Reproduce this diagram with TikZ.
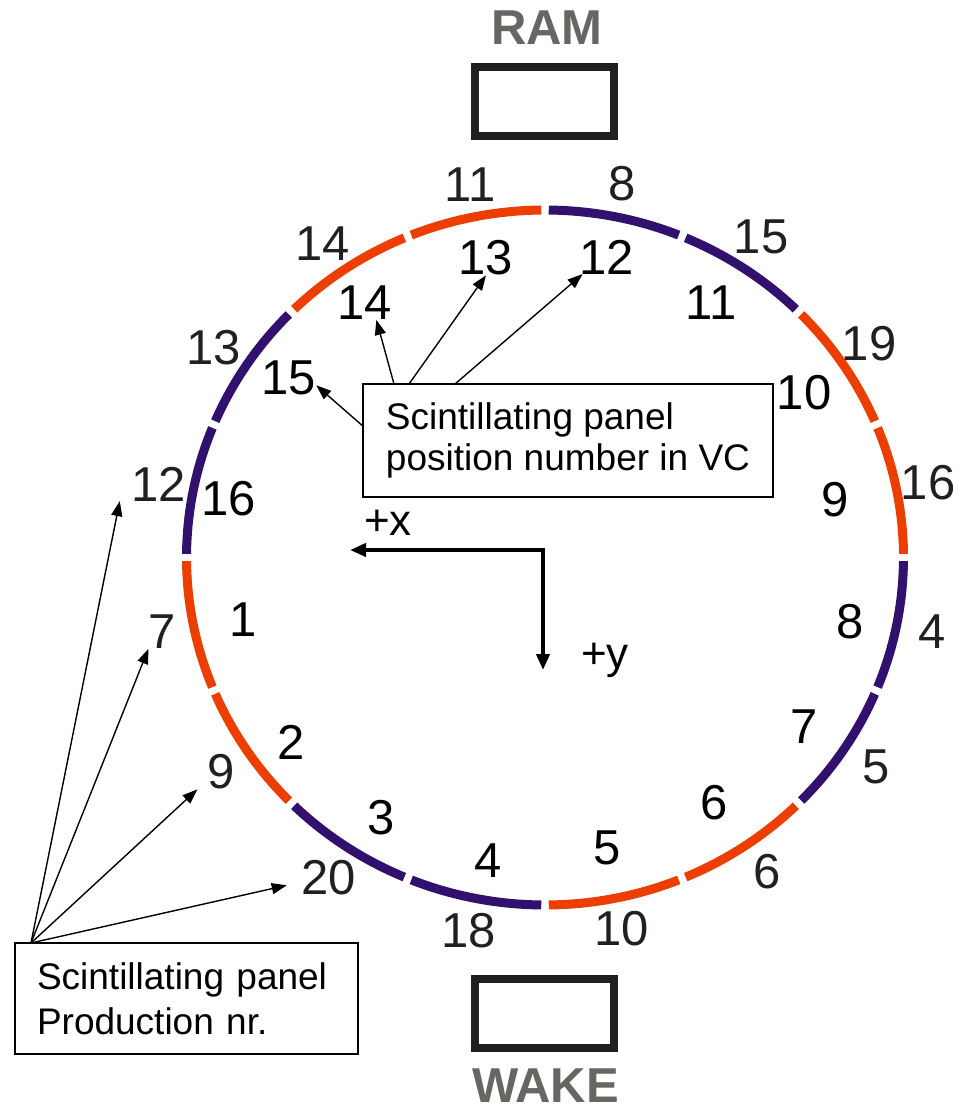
\documentclass[tikz,border=0pt]{standalone}
\usepackage{fontspec}
\setmainfont{Liberation Sans}
\usetikzlibrary{arrows.meta}
\definecolor{panelred}{RGB}{235,62,0}
\definecolor{panelblue}{RGB}{50,16,110}
\definecolor{labelgrey}{RGB}{102,102,98}
\definecolor{darkink}{RGB}{35,31,32}
\begin{document}
\begin{tikzpicture}[y=1pt, x=1pt, yscale=-1, inner sep=0pt, outer sep=0pt,
  panel/.style={line width=9pt, line cap=butt},
  posnum/.style={font=\fontsize{49}{49}\selectfont, text=black},
  prodnum/.style={font=\fontsize{49}{49}\selectfont, text=darkink},
  portbox/.style={draw=darkink, line width=8pt, minimum width=139pt, minimum height=69pt},
  portlabel/.style={font=\fontsize{49}{49}\selectfont\bfseries, text=labelgrey, anchor=base},
  notebox/.style={draw=black, line width=2pt, anchor=north west, inner xsep=10pt, align=left},
  axislabel/.style={font=\fontsize{44}{44}\selectfont, anchor=base west},
  pointer/.style={line width=1.4pt, -{Triangle[length=15pt,width=11pt]}},
  axisline/.style={line width=4pt, line join=miter, {Triangle[length=16pt,width=13pt]}-{Triangle[length=16pt,width=13pt]}}]
\useasboundingbox (0,0) rectangle (958,1109);

% ram / wake markers
\node[portlabel] (ramlabel) at (547,44) {RAM};
\node[portbox] (ram) at (544.5,101.5) {};
\node[portbox] (wake) at (544.5,1013.5) {};
\node[portlabel] (wakelabel) at (545.5,1102) {WAKE};

% ring of 16 panels, clockwise from the top
\coordinate (ring) at (545,557.5);
\draw[panel, panelblue] (ring) ++(270.6:358.5 and 347.5) arc[start angle=270.6, end angle=291.9, x radius=358.5, y radius=347.5];
\draw[panel, panelblue] (ring) ++(293.1:358.5 and 347.5) arc[start angle=293.1, end angle=314.4, x radius=358.5, y radius=347.5];
\draw[panel, panelred] (ring) ++(315.6:358.5 and 347.5) arc[start angle=315.6, end angle=336.9, x radius=358.5, y radius=347.5];
\draw[panel, panelred] (ring) ++(338.1:358.5 and 347.5) arc[start angle=338.1, end angle=359.4, x radius=358.5, y radius=347.5];
\draw[panel, panelblue] (ring) ++(0.6:358.5 and 347.5) arc[start angle=0.6, end angle=21.9, x radius=358.5, y radius=347.5];
\draw[panel, panelblue] (ring) ++(23.1:358.5 and 347.5) arc[start angle=23.1, end angle=44.4, x radius=358.5, y radius=347.5];
\draw[panel, panelred] (ring) ++(45.6:358.5 and 347.5) arc[start angle=45.6, end angle=66.9, x radius=358.5, y radius=347.5];
\draw[panel, panelred] (ring) ++(68.1:358.5 and 347.5) arc[start angle=68.1, end angle=89.4, x radius=358.5, y radius=347.5];
\draw[panel, panelblue] (ring) ++(90.6:358.5 and 347.5) arc[start angle=90.6, end angle=111.9, x radius=358.5, y radius=347.5];
\draw[panel, panelblue] (ring) ++(113.1:358.5 and 347.5) arc[start angle=113.1, end angle=134.4, x radius=358.5, y radius=347.5];
\draw[panel, panelred] (ring) ++(135.6:358.5 and 347.5) arc[start angle=135.6, end angle=156.9, x radius=358.5, y radius=347.5];
\draw[panel, panelred] (ring) ++(158.1:358.5 and 347.5) arc[start angle=158.1, end angle=179.4, x radius=358.5, y radius=347.5];
\draw[panel, panelblue] (ring) ++(180.6:358.5 and 347.5) arc[start angle=180.6, end angle=201.9, x radius=358.5, y radius=347.5];
\draw[panel, panelblue] (ring) ++(203.1:358.5 and 347.5) arc[start angle=203.1, end angle=224.4, x radius=358.5, y radius=347.5];
\draw[panel, panelred] (ring) ++(225.6:358.5 and 347.5) arc[start angle=225.6, end angle=246.9, x radius=358.5, y radius=347.5];
\draw[panel, panelred] (ring) ++(248.1:358.5 and 347.5) arc[start angle=248.1, end angle=269.4, x radius=358.5, y radius=347.5];

% production numbers, outside the ring
\node[prodnum] (prod-8) at (622,184) {8};
\node[prodnum] (prod-15) at (761,237) {15};
\node[prodnum] (prod-19) at (869,344) {19};
\node[prodnum] (prod-16) at (928,483) {16};
\node[prodnum] (prod-4) at (932,632) {4};
\node[prodnum] (prod-5) at (876,767) {5};
\node[prodnum] (prod-6) at (767,872) {6};
\node[prodnum] (prod-10) at (622,929) {10};
\node[prodnum] (prod-18) at (469,931) {18};
\node[prodnum] (prod-20) at (329,878) {20};
\node[prodnum] (prod-9) at (221,772) {9};
\node[prodnum] (prod-7) at (162,632) {7};
\node[prodnum] (prod-12) at (159,484) {12};
\node[prodnum] (prod-13) at (214,348) {13};
\node[prodnum] (prod-14) at (323,244) {14};
\node[prodnum] (prod-11) at (470,185) {11};

% position numbers, inside the ring
\node[posnum] (pos-12) at (607,257) {12};
\node[posnum] (pos-11) at (711,303) {11};
\node[posnum] (pos-10) at (804,393) {10};
\node[posnum] (pos-9) at (835,500) {9};
\node[posnum] (pos-8) at (850,622) {8};
\node[posnum] (pos-7) at (804,727) {7};
\node[posnum] (pos-6) at (714,803) {6};
\node[posnum] (pos-5) at (607,848) {5};
\node[posnum] (pos-4) at (488,861) {4};
\node[posnum] (pos-3) at (381,818) {3};
\node[posnum] (pos-2) at (291,742) {2};
\node[posnum] (pos-1) at (243,620) {1};
\node[posnum] (pos-16) at (229,499) {16};
\node[posnum] (pos-15) at (289,378) {15};
\node[posnum] (pos-14) at (365,303) {14};
\node[posnum] (pos-13) at (486,258) {13};

% axes
\coordinate (axes) at (543,550);
\coordinate (xtip) at (350,550);
\coordinate (ytip) at (543,670);
\draw[axisline] (xtip) -- (axes) -- (ytip);
\node[axislabel] (xlabel) at (364,535) {+x};
\node[axislabel] (ylabel) at (581,668) {+y};

% legend boxes
\node[notebox, minimum width=410pt, minimum height=113pt, font=\fontsize{37}{41}\selectfont] (vcnote) at (363,384) {Scintillating panel\\position number in VC};
\node[notebox, inner xsep=22pt, text width=299pt, minimum height=111pt, font=\fontsize{37}{45}\selectfont] (prodnote) at (15,943) {Scintillating panel\\Production nr.};

\draw[pointer] (vcnote.176.5) -- (pos-15.-15);
\draw[pointer] ([xshift=31pt]vcnote.north west) -- (pos-14.-56);
\draw[pointer] ([xshift=46pt]vcnote.north west) -- (pos-13.south);
\draw[pointer] ([xshift=92pt]vcnote.north west) -- (pos-12.-145);

\draw[pointer] ([xshift=16pt]prodnote.north west) -- ([xshift=-12pt]prod-12.south west);
\draw[pointer] ([xshift=16pt]prodnote.north west) -- (prod-7.south west);
\draw[pointer] ([xshift=16pt]prodnote.north west) -- ([xshift=-10pt]prod-9.south west);
\draw[pointer] ([xshift=16pt]prodnote.north west) -- ([xshift=-15pt]prod-20.-165);
\end{tikzpicture}
\end{document}
